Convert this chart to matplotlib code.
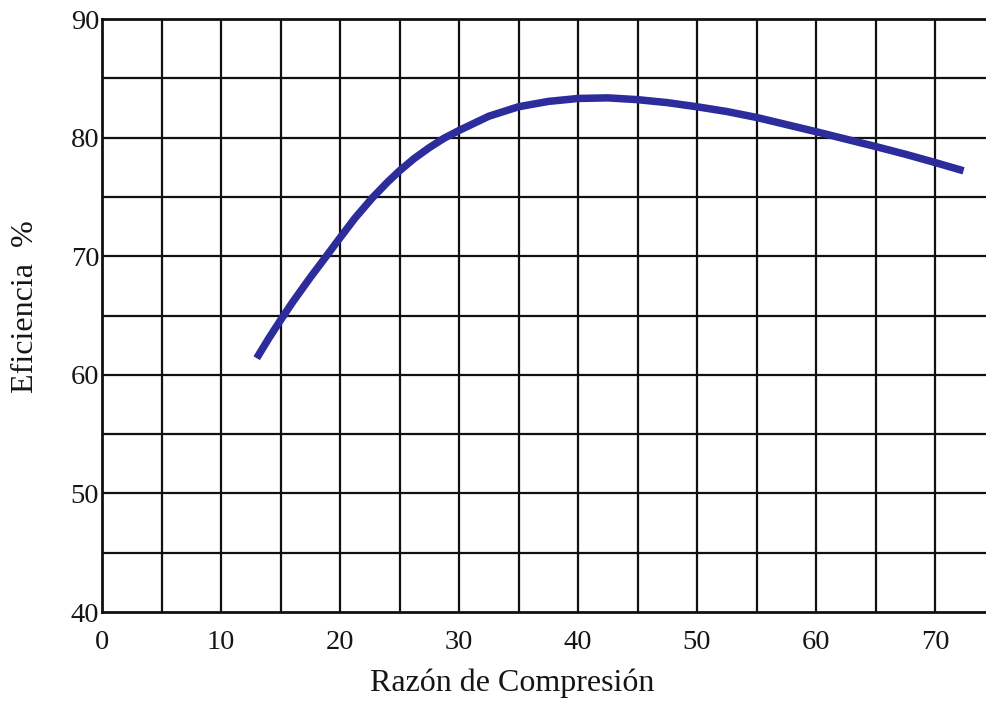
import matplotlib
matplotlib.use("Agg")
import matplotlib.pyplot as plt

# Data
razon = [13, 14, 15, 16, 17.5, 18.7, 20, 21.25, 22.7, 24, 25, 26.25, 27.5, 28.75, 30,
         32.5, 35, 37.5, 40, 42.5, 45, 47.5, 50, 52.5, 55, 57.5, 60, 62, 65, 67.5, 70, 72.4]
eficiencia = [61.4, 63.05, 64.6, 66.1, 68.2, 69.8, 71.55, 73.2, 74.9, 76.25, 77.2, 78.25, 79.15, 79.95, 80.6,
              81.8, 82.6, 83.05, 83.3, 83.35, 83.2, 82.95, 82.6, 82.2, 81.7, 81.1, 80.5, 80.0, 79.25, 78.6, 77.9, 77.2]
xticks = [0, 10, 20, 30, 40, 50, 60, 70]
yticks = [40, 50, 60, 70, 80, 90]

plt.rcParams['font.family'] = ['Liberation Serif', 'DejaVu Serif']

fig = plt.figure(figsize=(9.86, 7.03), dpi=100)
ax = fig.add_axes([102/986, 1 - 612/703, 1 - 102/986, (612 - 19)/703])

ax.set_xlim(0, (986 - 102) / 11.9)
ax.set_ylim(40, 90)

# grid every 5 units
for gx in range(5, 75, 5):
    ax.axvline(gx, color='#111111', lw=1.6, zorder=1)
for gy in range(45, 90, 5):
    ax.axhline(gy, color='#111111', lw=1.6, zorder=1)

ax.plot(razon, eficiencia, color='#2c2c9c', lw=5.4, solid_capstyle='butt',
        solid_joinstyle='round', zorder=3)

for side in ['left', 'top', 'bottom']:
    ax.spines[side].set_linewidth(2.0)
    ax.spines[side].set_color('#111111')
ax.spines['right'].set_visible(False)

txt = '#151515'
ax.set_xticks(xticks)
ax.set_yticks(yticks)
ax.set_xticklabels([str(t) for t in xticks])
ax.set_yticklabels([str(t) for t in yticks])
ax.tick_params(axis='both', length=0, labelsize=20.5, colors=txt)
ax.tick_params(axis='x', pad=13)
ax.tick_params(axis='y', pad=2)

ax.set_xlabel('Razón de Compresión', fontsize=23, color=txt)
ax.xaxis.set_label_coords((512 - 102) / 884, (612 - 668) / 593)
ax.set_ylabel('Eficiencia  %', fontsize=23, color=txt, va='center')
ax.yaxis.set_label_coords((26 - 102) / 884, (612 - 307) / 593)

fig.savefig('out.png', dpi=100)
